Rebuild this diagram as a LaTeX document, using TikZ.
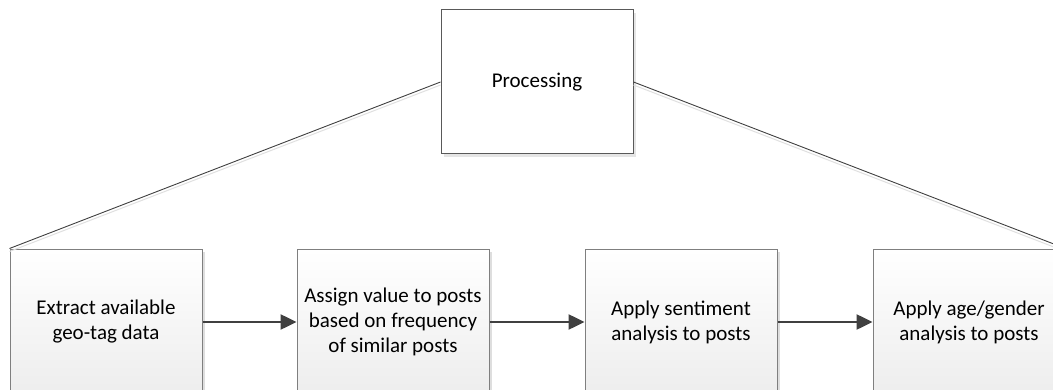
\documentclass[tikz,border=0pt]{standalone}
\usepackage{fontspec}
\setmainfont{Carlito}
\usetikzlibrary{arrows.meta,shadows}
\definecolor{edgegray}{HTML}{7F7F7F}
\definecolor{linkgray}{HTML}{404040}
\tikzset{
  boxtext/.style={align=center, font=\fontsize{21}{25}\selectfont},
  stepbox/.style={boxtext, draw=edgegray, line width=1pt, minimum width=192pt, minimum height=146pt,
    top color=white, bottom color=black!7,
    drop shadow={shadow xshift=3pt, shadow yshift=-3pt, fill=black!25, opacity=0.5}},
  topbox/.style={boxtext, draw=black!65, line width=1pt, minimum width=192pt, minimum height=144pt,
    fill=white,
    drop shadow={shadow xshift=3pt, shadow yshift=-3pt, fill=black!20, opacity=0.5}},
  link/.style={draw=linkgray, line width=0.9pt},
  linkshade/.style={draw=black!12, line width=1pt},
  flow/.style={draw=linkgray, line width=2.5pt, -{Triangle[length=16pt,width=15pt]}}
}
\begin{document}
\begin{tikzpicture}[x=1pt,y=1pt]
  \useasboundingbox[fill=white] (0,0) rectangle (1053,389);
  % lower row of process steps
  \node[stepbox] (extract) at (106,67) {Extract available\\geo-tag data};
  \node[stepbox] (assign)  at (393,67) {Assign value to posts\\based on frequency\\of similar posts};
  \node[stepbox] (senti)   at (681,67) {Apply sentiment\\analysis to posts};
  \node[stepbox] (agegen)  at (969,67) {Apply age/gender\\analysis to posts};
  % parent box
  \node[topbox] (proc) at (537,307) {Processing};
  % fan-out lines with faint shading
  \draw[linkshade] ([yshift=-3]proc.west) -- ([yshift=-3]extract.north west);
  \draw[linkshade] ([yshift=-3]proc.east) -- ([yshift=-3]agegen.north east);
  \draw[link] (proc.west) -- (extract.north west);
  \draw[link] (proc.east) -- (agegen.north east);
  % sequence arrows
  \draw[flow] (extract.east) -- (assign.west);
  \draw[flow] (assign.east) -- (senti.west);
  \draw[flow] (senti.east) -- (agegen.west);
\end{tikzpicture}
\end{document}
